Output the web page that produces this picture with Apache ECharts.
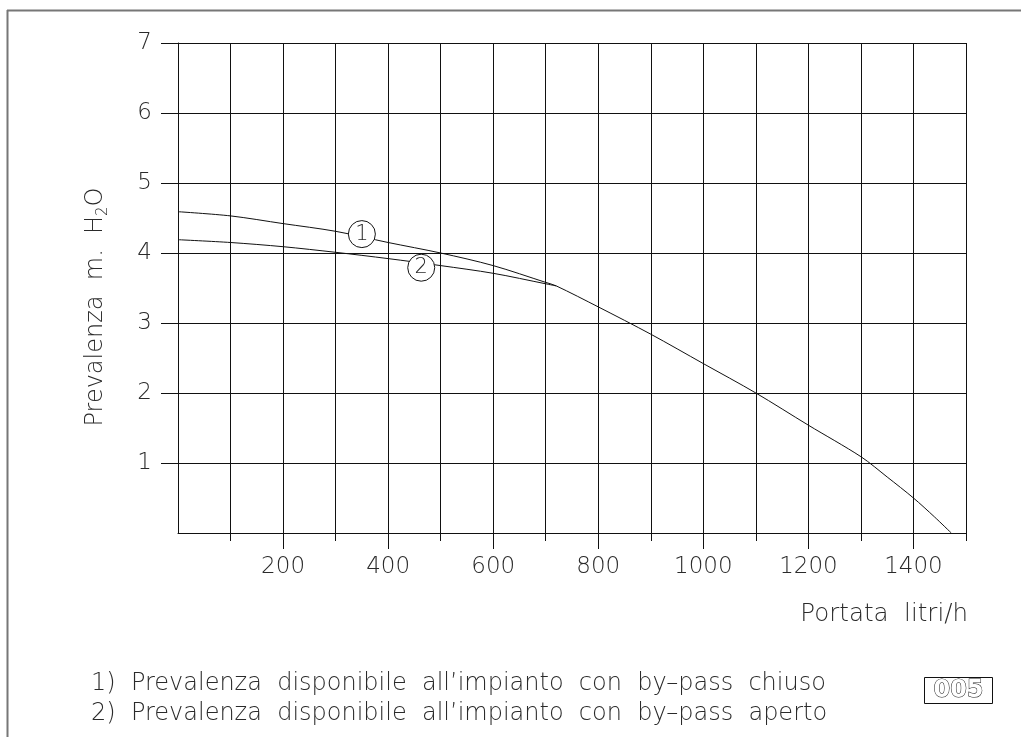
<!DOCTYPE html>
<html lang="it">
<head>
    <meta charset="utf-8"/>
    <script src="https://cdn.jsdelivr.net/npm/echarts@6/dist/echarts.min.js"></script>
</head>
<body style="margin: 0; background: #fff">
<div id="container" style="width: 1021px; height: 737px;"></div>
<script type="text/javascript">
    // curve 1: by-pass chiuso (includes the common tail)
    var flow1 = [0, 100, 200, 300, 400, 500, 600, 700, 720, 800, 900, 1000, 1100, 1200, 1300, 1350, 1400, 1440, 1472];
    var head1 = [4.59, 4.53, 4.42, 4.31, 4.15, 4.00, 3.82, 3.58, 3.53, 3.23, 2.84, 2.42, 2.00, 1.54, 1.09, 0.80, 0.50, 0.23, 0];
    // curve 2: by-pass aperto (joins curve 1 at ~720)
    var flow2 = [0, 100, 200, 300, 400, 500, 600, 700, 720];
    var head2 = [4.19, 4.15, 4.09, 4.01, 3.92, 3.82, 3.71, 3.56, 3.53];

    // numbered circles on the curves
    var markerFlow = [350, 463];
    var markerHead = [4.27, 3.79];
    var markerText = ['1', '2'];

    // tick ranges [from, to, step]
    var xMinorTicks = [100, 1500, 100];   // short ticks
    var xMajorTicks = [200, 1400, 200];   // long ticks with labels
    var yTicks = [1, 7, 1];

    var font = "'DejaVu Sans', sans-serif";
    var ink = '#111';
    var txt = '#2a2a2a';

    // plot box (px)
    var W = 1021, H = 737;
    var L = 178, R = 55, T = 43, B = 204;
    var pxPerFlow = (W - L - R) / 1500;
    var axisY = H - B;   // pixel row of the x axis

    function pairs(xs, ys) {
        return xs.map(function (x, i) { return [x, ys[i]]; });
    }

    var myChart = echarts.init(document.getElementById('container'));

    var majorLeft = L + xMajorTicks[0] * pxPerFlow;
    var majorRight = R + (1500 - xMajorTicks[1]) * pxPerFlow;

    var option = {
        animation: false,
        grid: [
            {left: L, right: R, top: T, bottom: B},
            // strip below the axis for the short ticks
            {left: L + xMinorTicks[0] * pxPerFlow, right: R + (1500 - xMinorTicks[1]) * pxPerFlow, top: axisY, bottom: B - 8},
            // strip below the axis for the long ticks
            {left: majorLeft, right: majorRight, top: axisY, bottom: B - 16},
            // y ticks/labels without the 0
            {left: L, right: R, top: T, bottom: B + yTicks[0] * (H - T - B) / 7},
            // strip carrying the x labels
            {left: majorLeft, right: majorRight, top: axisY + 16, bottom: B - 17}
        ],
        xAxis: [
            {
                gridIndex: 0, type: 'value', min: 0, max: 1500, interval: 100,
                axisLine: {show: true, lineStyle: {color: ink, width: 1}},
                axisTick: {show: false}, axisLabel: {show: false},
                splitLine: {show: true, lineStyle: {color: ink, width: 1}}
            },
            {
                gridIndex: 1, type: 'value', min: xMinorTicks[0], max: xMinorTicks[1], interval: xMinorTicks[2],
                axisLine: {show: false}, axisTick: {show: false}, axisLabel: {show: false},
                splitLine: {show: true, lineStyle: {color: ink, width: 1}}
            },
            {
                gridIndex: 2, type: 'value', min: xMajorTicks[0], max: xMajorTicks[1], interval: xMajorTicks[2],
                axisLine: {show: false}, axisTick: {show: false}, axisLabel: {show: false},
                splitLine: {show: true, lineStyle: {color: ink, width: 1}}
            },
            {gridIndex: 3, type: 'value', min: 0, max: 1500, show: false},
            {
                gridIndex: 4, type: 'value', min: xMajorTicks[0], max: xMajorTicks[1], interval: xMajorTicks[2],
                axisLine: {show: false}, axisTick: {show: false}, splitLine: {show: false},
                axisLabel: {
                    show: true, margin: 6, color: txt, fontFamily: font, fontSize: 23, fontWeight: 200,
                    formatter: function (v) { return String(v); }
                }
            }
        ],
        yAxis: [
            {
                gridIndex: 0, type: 'value', min: 0, max: 7, interval: 1,
                axisLine: {show: true, lineStyle: {color: ink, width: 1}},
                axisTick: {show: false}, axisLabel: {show: false},
                splitLine: {show: true, lineStyle: {color: ink, width: 1}}
            },
            {gridIndex: 1, type: 'value', min: 0, max: 1, show: false},
            {gridIndex: 2, type: 'value', min: 0, max: 1, show: false},
            {
                gridIndex: 3, type: 'value', min: yTicks[0], max: yTicks[1], interval: yTicks[2],
                axisLine: {show: true, lineStyle: {color: 'rgba(0,0,0,0)'}},
                axisTick: {show: true, length: 17, lineStyle: {color: ink, width: 1}},
                axisLabel: {show: true, margin: 26, color: txt, fontFamily: font, fontSize: 23, fontWeight: 200},
                splitLine: {show: false}
            },
            {gridIndex: 4, type: 'value', min: 0, max: 1, show: false}
        ],
        series: [
            {
                type: 'line', xAxisIndex: 0, yAxisIndex: 0,
                data: pairs(flow1, head1), smooth: 0.3, symbol: 'none',
                lineStyle: {color: '#111', width: 1}, z: 3
            },
            {
                type: 'line', xAxisIndex: 0, yAxisIndex: 0,
                data: pairs(flow2, head2), smooth: 0.3, symbol: 'none',
                lineStyle: {color: '#111', width: 1}, z: 3,
                markPoint: {
                    symbol: 'circle', symbolSize: 27,
                    itemStyle: {color: '#fff', borderColor: ink, borderWidth: 1},
                    label: {show: true, position: 'inside', color: txt, fontFamily: font, fontSize: 21, fontWeight: 200},
                    data: markerFlow.map(function (f, i) {
                        return {coord: [f, markerHead[i]], value: markerText[i]};
                    })
                }
            }
        ],
        graphic: [
            {type: 'line', shape: {x1: 7, y1: 10.5, x2: W, y2: 10.5}, style: {stroke: '#777', lineWidth: 2}},
            {type: 'line', shape: {x1: 7.5, y1: 10, x2: 7.5, y2: H}, style: {stroke: '#777', lineWidth: 2}},
            {
                type: 'text', x: 96, y: 307, rotation: Math.PI / 2,
                style: {
                    text: 'Prevalenza  m.  H{sub|2}O',
                    fontFamily: font, fontSize: 24, fontWeight: 200, fill: txt,
                    align: 'center', verticalAlign: 'middle', lineHeight: 30,
                    rich: {sub: {fontSize: 15, fontFamily: font, fontWeight: 200, fill: txt, verticalAlign: 'bottom', lineHeight: 30}}
                }
            },
            {
                type: 'text', x: 968, y: 615,
                style: {
                    text: 'Portata  litri/h', fontFamily: font, fontSize: 24.5, fontWeight: 200, fill: txt,
                    align: 'right', verticalAlign: 'middle'
                }
            },
            {
                type: 'text', x: 91, y: 684,
                style: {
                    text: '1)  Prevalenza  disponibile  all\u2019impianto  con  by\u2013pass  chiuso',
                    fontFamily: font, fontSize: 24, fontWeight: 200, fill: txt, verticalAlign: 'middle'
                }
            },
            {
                type: 'text', x: 91, y: 714,
                style: {
                    text: '2)  Prevalenza  disponibile  all\u2019impianto  con  by\u2013pass  aperto',
                    fontFamily: font, fontSize: 24, fontWeight: 200, fill: txt, verticalAlign: 'middle'
                }
            },
            {
                type: 'rect', shape: {x: 924.5, y: 677.5, width: 68, height: 26},
                style: {fill: '#fff', stroke: ink, lineWidth: 1}
            },
            {
                type: 'text', x: 958.5, y: 691,
                style: {
                    text: '005', fontFamily: font, fontSize: 24, fontWeight: 'bold',
                    fill: '#fff', stroke: ink, lineWidth: 1,
                    align: 'center', verticalAlign: 'middle'
                }
            }
        ]
    };

    myChart.setOption(option);
</script>
</body>
</html>
